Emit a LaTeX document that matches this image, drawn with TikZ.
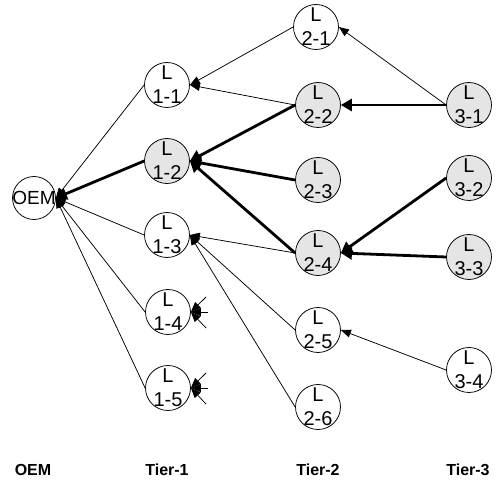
\documentclass[tikz,border=0pt]{standalone}
\usepackage{fontspec}
\setmainfont{Liberation Sans}
\usetikzlibrary{arrows.meta}
\begin{document}
\begin{tikzpicture}[x=1pt,y=-1pt,
  nd/.style={circle,draw,line width=0.75pt,minimum size=45pt,inner sep=0pt,fill=white},
  gnd/.style={nd,fill=black!10},
  txt/.style={font=\fontsize{20}{24}\selectfont,align=center,inner sep=0pt},
  thin/.style={line width=0.75pt,-{Triangle[length=10pt,width=8pt]}},
  thick/.style={line width=2.8pt,-{Triangle[length=11pt,width=12pt]}},
  tier/.style={font=\fontsize{16}{19}\selectfont\bfseries,anchor=base}]
\useasboundingbox (0,0) rectangle (496,484);
% nodes
\node[nd,minimum size=43pt] (oem) at (34,198) {};
\node[txt,font=\fontsize{19}{23}\selectfont] (oemt) at (oem) {OEM};
\node[nd]  (l11) at (167,85)  {};
\node[gnd] (l12) at (167,161) {};
\node[nd]  (l13) at (167,235) {};
\node[nd]  (l14) at (168,312) {};
\node[nd]  (l15) at (168,388) {};
\node[nd]  (l21) at (316,27)  {};
\node[gnd] (l22) at (318,105) {};
\node[gnd] (l23) at (318,180) {};
\node[gnd] (l24) at (318,253) {};
\node[nd]  (l25) at (318,330) {};
\node[nd]  (l26) at (318,407) {};
\node[gnd] (l31) at (469,105) {};
\node[gnd] (l32) at (469,178) {};
\node[gnd] (l33) at (469,257) {};
\node[nd]  (l34) at (469,370) {};
\foreach \n/\a/\b in {l11/1/1,l12/1/2,l13/1/3,l14/1/4,l15/1/5,l21/2/1,l22/2/2,l23/2/3,l24/2/4,l25/2/5,l26/2/6,l31/3/1,l32/3/2,l33/3/3,l34/3/4}
  \node[txt] (\n t) at (\n) {L\\\a-\b};
% stub ends
\coordinate (s4a) at (206,297);
\coordinate (s4b) at (208,312);
\coordinate (s4c) at (206,328);
\coordinate (s5a) at (206,373);
\coordinate (s5b) at (208,388);
\coordinate (s5c) at (206,404);
% edges
\draw[thin] (l11.west) -- (oem.east);
\draw[thick] (l12.west) -- (oem.east);
\draw[thin] (l13.west) -- (oem.east);
\draw[thin] (l14.west) -- (oem.east);
\draw[thin] (l15.west) -- (oem.east);
\draw[thin] (l21.west) -- (l11.east);
\draw[thin] (l22.west) -- (l11.east);
\draw[thick] (l22.west) -- (l12.east);
\draw[thick] (l23.west) -- (l12.east);
\draw[thick] (l24.west) -- (l12.east);
\draw[thin] (l24.west) -- (l13.east);
\draw[thin] (l25.west) -- (l13.east);
\draw[thin] (l26.west) -- (l13.east);
\draw[thin] (l31.west) -- (l21.east);
\draw[thick] (l31.west) -- (l22.east);
\draw[thick] (l32.west) -- (l24.east);
\draw[thick] (l33.west) -- (l24.east);
\draw[thin] (l34.west) -- (l25.east);
\foreach \s in {s4a,s4b,s4c} \draw[thin] (\s) -- (l14.east);
\foreach \s in {s5a,s5b,s5c} \draw[thin] (\s) -- (l15.east);
% tier labels
\node[tier] (t0) at (33,475) {OEM};
\node[tier] (t1) at (167,475) {Tier-1};
\node[tier] (t2) at (318,475) {Tier-2};
\node[tier] (t3) at (468,475) {Tier-3};
\end{tikzpicture}
\end{document}
